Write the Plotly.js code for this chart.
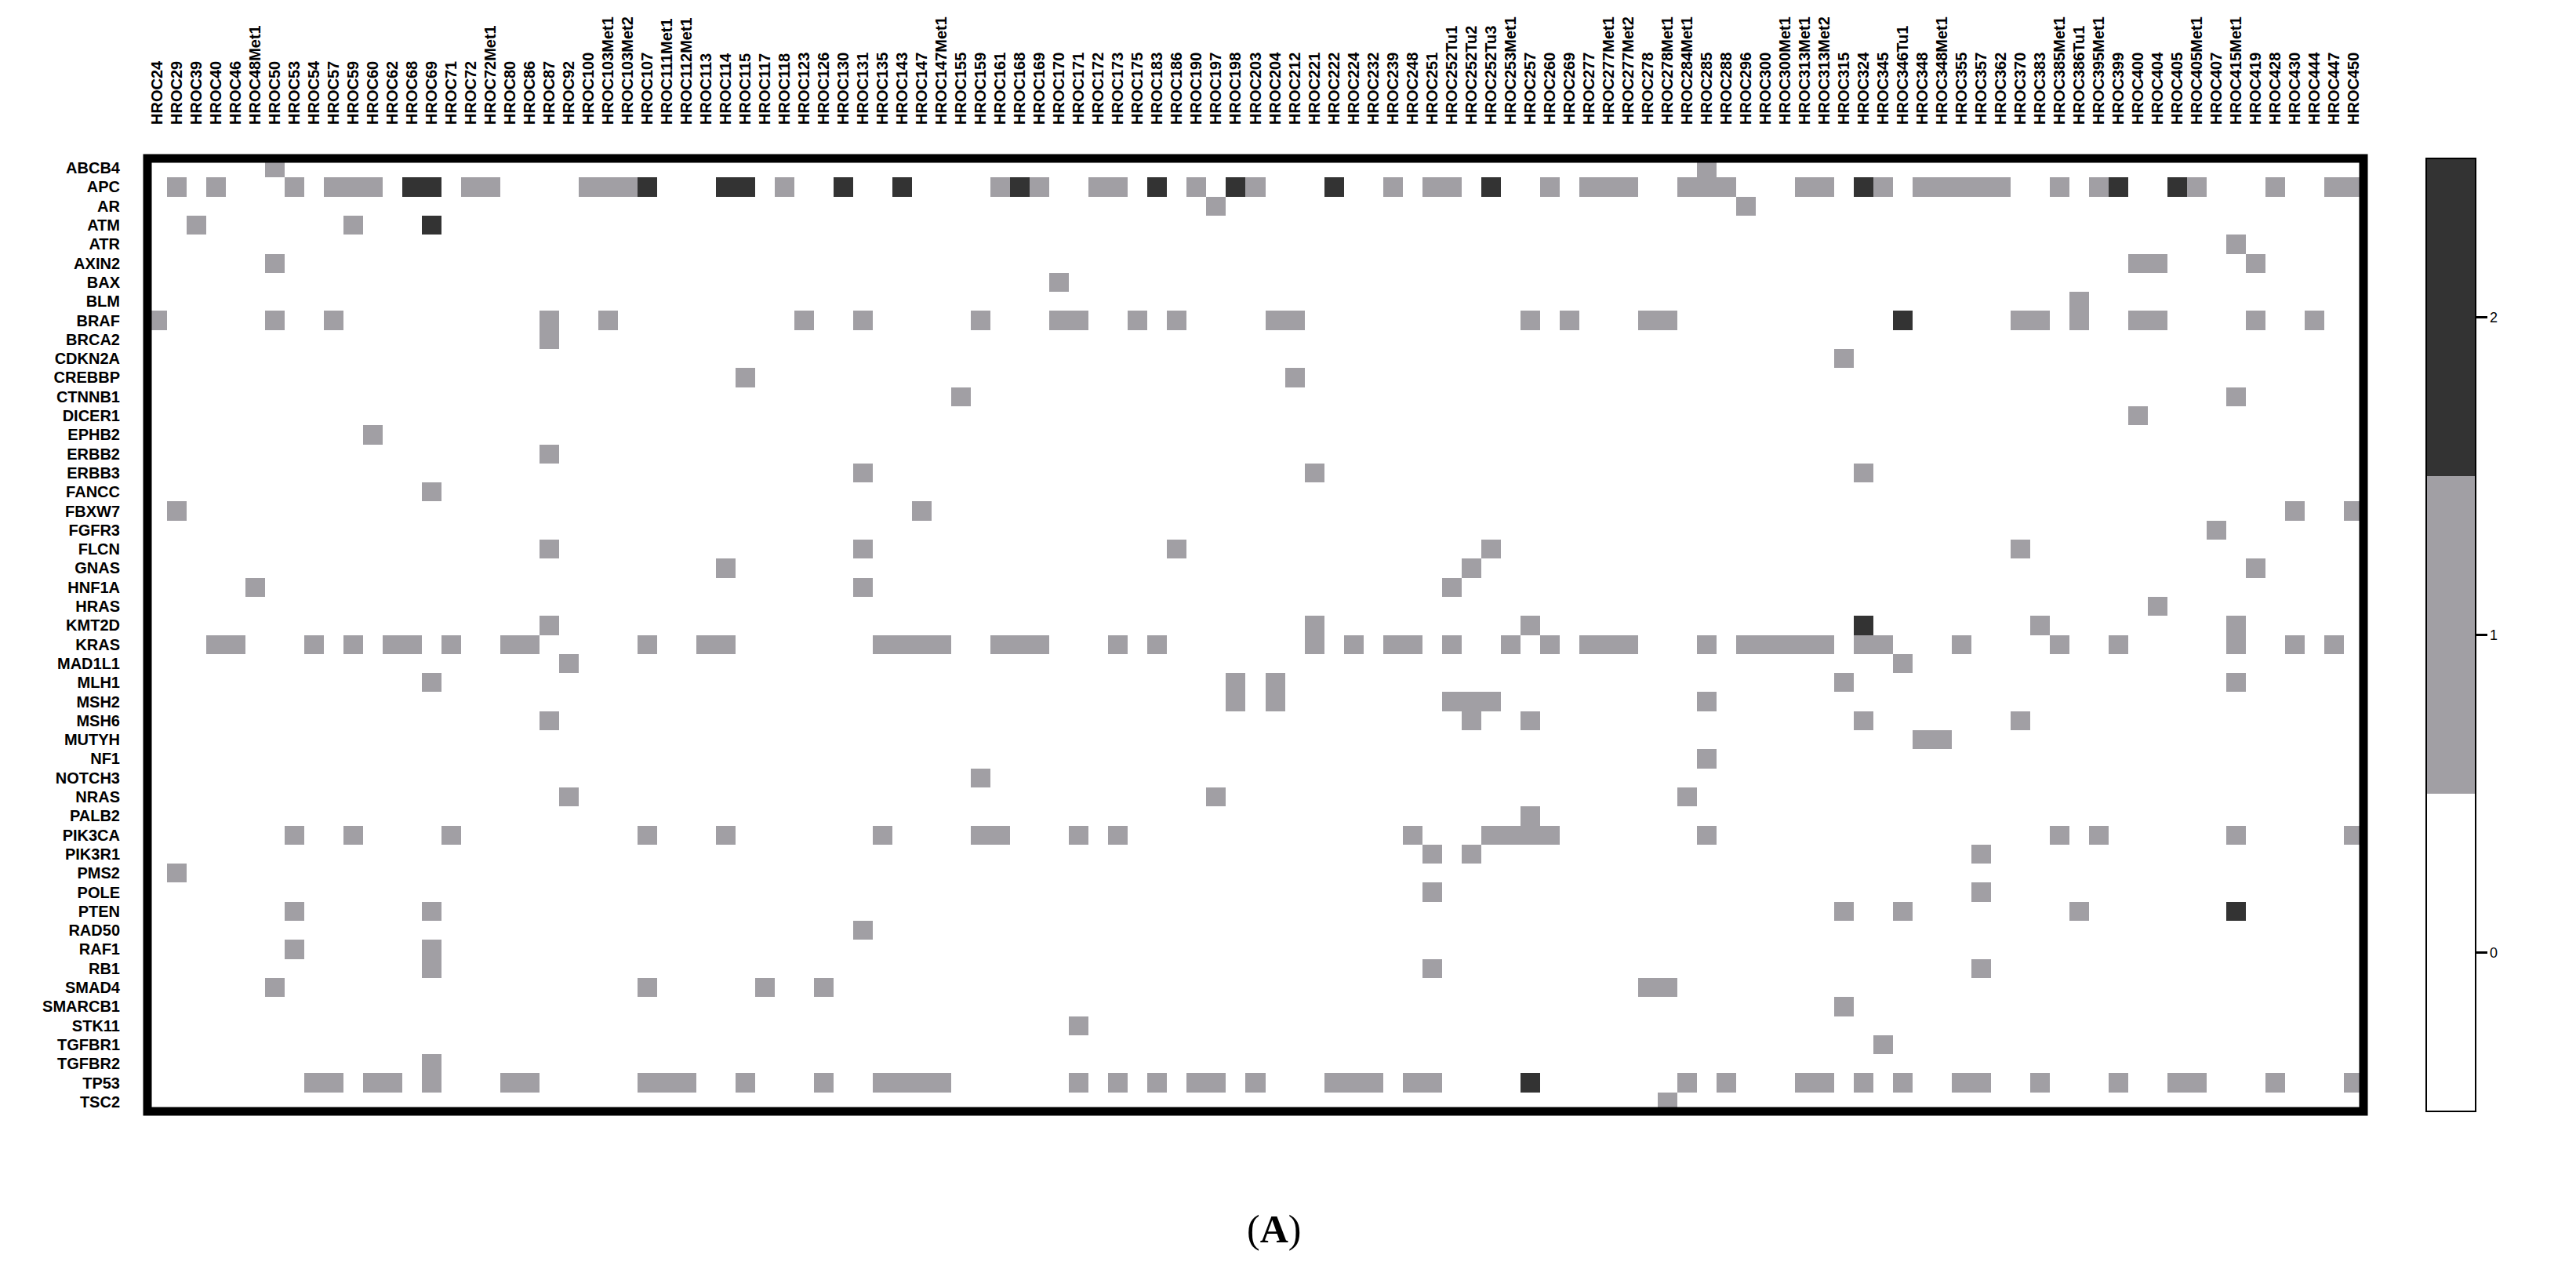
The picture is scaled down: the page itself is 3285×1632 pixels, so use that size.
<!DOCTYPE html>
<html><head><meta charset="utf-8">
<script src="https://cdn.plot.ly/plotly-3.0.1.min.js"></script>
<style>html,body{margin:0;padding:0;background:#fff}</style>
</head><body>
<div id="chart" style="width:3285px;height:1632px"></div>
<script>
const genes = ["ABCB4","APC","AR","ATM","ATR","AXIN2","BAX","BLM","BRAF","BRCA2","CDKN2A","CREBBP","CTNNB1","DICER1","EPHB2","ERBB2","ERBB3","FANCC","FBXW7","FGFR3","FLCN","GNAS","HNF1A","HRAS","KMT2D","KRAS","MAD1L1","MLH1","MSH2","MSH6","MUTYH","NF1","NOTCH3","NRAS","PALB2","PIK3CA","PIK3R1","PMS2","POLE","PTEN","RAD50","RAF1","RB1","SMAD4","SMARCB1","STK11","TGFBR1","TGFBR2","TP53","TSC2"];

const samples = ["HROC24","HROC29","HROC39","HROC40","HROC46","HROC48Met1","HROC50","HROC53","HROC54","HROC57",
"HROC59","HROC60","HROC62","HROC68","HROC69","HROC71","HROC72","HROC72Met1","HROC80","HROC86",
"HROC87","HROC92","HROC100","HROC103Met1","HROC103Met2","HROC107","HROC111Met1","HROC112Met1","HROC113","HROC114",
"HROC115","HROC117","HROC118","HROC123","HROC126","HROC130","HROC131","HROC135","HROC143","HROC147",
"HROC147Met1","HROC155","HROC159","HROC161","HROC168","HROC169","HROC170","HROC171","HROC172","HROC173",
"HROC175","HROC183","HROC186","HROC190","HROC197","HROC198","HROC203","HROC204","HROC212","HROC221",
"HROC222","HROC224","HROC232","HROC239","HROC248","HROC251","HROC252Tu1","HROC252Tu2","HROC252Tu3","HROC253Met1",
"HROC257","HROC260","HROC269","HROC277","HROC277Met1","HROC277Met2","HROC278","HROC278Met1","HROC284Met1","HROC285",
"HROC288","HROC296","HROC300","HROC300Met1","HROC313Met1","HROC313Met2","HROC315","HROC324","HROC345","HROC346Tu1",
"HROC348","HROC348Met1","HROC355","HROC357","HROC362","HROC370","HROC383","HROC385Met1","HROC386Tu1","HROC395Met1",
"HROC399","HROC400","HROC404","HROC405","HROC405Met1","HROC407","HROC415Met1","HROC419","HROC428","HROC430",
"HROC444","HROC447","HROC450"];

// sample indices (position in `samples`) with value 1, one list per gene
const level1Hits = [
 [6,79],
 [1,3,7,9,10,11,16,17,22,23,24,32,43,45,48,49,53,56,63,65,66,71,73,74,75,78,79,80,84,85,88,90,91,92,93,94,97,99,104,108,111,112],
 [54,81],
 [2,10],
 [106],
 [6,101,102,107],
 [46],
 [98],
 [0,6,9,20,23,33,36,42,46,47,50,52,57,58,70,72,76,77,95,96,98,101,102,107,110],
 [20],
 [86],
 [30,58],
 [41,106],
 [101],
 [11],
 [20],
 [36,59,87],
 [14],
 [1,39,109,112],
 [105],
 [20,36,52,68,95],
 [29,67,107],
 [5,36,66],
 [102],
 [20,59,70,96,106],
 [3,4,8,10,12,13,15,18,19,25,28,29,37,38,39,40,43,44,45,49,51,59,61,63,64,66,69,71,73,74,75,79,81,82,83,84,85,87,88,92,97,100,106,109,111],
 [21,89],
 [14,55,57,86,106],
 [55,57,66,67,68,79],
 [20,67,70,87,95],
 [90,91],
 [79],
 [42],
 [21,54,78],
 [70],
 [7,10,15,25,29,37,42,43,47,49,64,68,69,70,71,79,97,99,106,112],
 [65,67,93],
 [1],
 [65,93],
 [7,14,86,89,98],
 [36],
 [7,14],
 [14,65,93],
 [6,25,31,34,76,77],
 [86],
 [47],
 [88],
 [14],
 [8,9,11,12,14,18,19,25,26,27,30,34,37,38,39,40,47,49,51,53,54,56,60,61,62,64,65,78,80,84,85,87,89,92,93,96,100,103,104,108,112],
 [77]
];

// genes with value-2 cells and their sample indices
const level2Genes = ["APC","ATM","BRAF","KMT2D","PTEN","TP53"];
const level2Hits = [
 [13,14,25,29,30,35,38,44,51,55,60,68,87,100,103],
 [14],
 [89],
 [87],
 [106],
 [70]
];

const levelTicks = [0,1,2];
const levelColors = ["#ffffff","#a19fa4","#333333"];
const zMin = -0.5, zMax = 2.5;

const z = genes.map((g,i)=>{
  const row = samples.map(()=>0);
  level1Hits[i].forEach(c=>{row[c]=1;});
  const k = level2Genes.indexOf(g);
  if (k>=0) level2Hits[k].forEach(c=>{row[c]=2;});
  return row;
});

const colorscale = [
  [0, levelColors[0]],[1/3, levelColors[0]],
  [1/3, levelColors[1]],[2/3, levelColors[1]],
  [2/3, levelColors[2]],[1, levelColors[2]]
];

const W=3285, H=1632;
const L=188, R=271, T=202, B=215;
const pw = W-L-R, ph = H-T-B;
const cbX = (3094-L)/pw;

const trace = {
  type:'heatmap', z:z, x:samples, y:genes,
  zmin:zMin, zmax:zMax, colorscale:colorscale,
  xgap:0, ygap:0, hoverinfo:'skip',
  colorbar:{
    thicknessmode:'pixels', thickness:63,
    lenmode:'fraction', len:1,
    x:cbX, xanchor:'left', xpad:0,
    y:0.5, yanchor:'middle', ypad:0,
    outlinewidth:2, outlinecolor:'#000',
    tickvals:levelTicks, ticktext:levelTicks.map(String),
    ticks:'outside', ticklen:14, tickwidth:3, tickcolor:'#000',
    tickfont:{family:'Liberation Sans, Arial, sans-serif', size:18, color:'#000'}
  }
};

// small inner tick marks on the left edge of the colour bar, at the level positions
const cbTickShapes = levelTicks.map(v=>{
  const yf = (v - zMin)/(zMax - zMin);
  return {type:'line', xref:'paper', yref:'paper',
          x0:cbX, x1:cbX + 10/pw, y0:yf, y1:yf,
          line:{color:'#000', width:3}};
});

const layout = {
  width:W, height:H,
  margin:{l:L, r:R, t:T, b:B, pad:0},
  paper_bgcolor:'#fff', plot_bgcolor:'#fff',
  showlegend:false,
  font:{family:'Liberation Sans, Arial, sans-serif', color:'#000'},
  xaxis:{
    type:'category', side:'top', tickangle:-90,
    showgrid:false, zeroline:false, showline:false,
    ticks:'', ticklabelposition:'outside', ticklabelstandoff:42,
    tickfont:{family:'Liberation Sans, Arial, sans-serif', size:20, color:'#000', weight:'bold'},
    fixedrange:true
  },
  yaxis:{
    type:'category', autorange:'reversed',
    showgrid:false, zeroline:false, showline:false, ticks:'',
    ticklabelstandoff:34,
    tickfont:{family:'Liberation Sans, Arial, sans-serif', size:20, color:'#000', weight:'bold'},
    fixedrange:true
  },
  shapes:[{
    type:'rect', xref:'paper', yref:'paper', x0:0, x1:1, y0:0, y1:1,
    line:{color:'#000', width:11}, fillcolor:'rgba(0,0,0,0)', layer:'above'
  }].concat(cbTickShapes),
  annotations:[{
    xref:'paper', yref:'paper', x:(1624-L)/pw, y:-(1567-(T+ph))/ph,
    xanchor:'center', yanchor:'middle', showarrow:false,
    text:'(<b>A</b>)',
    font:{family:'Liberation Serif, Times New Roman, serif', size:50, color:'#000'}
  }]
};

Plotly.newPlot('chart',[trace],layout,{displayModeBar:false, staticPlot:true});
</script>
</body></html>
